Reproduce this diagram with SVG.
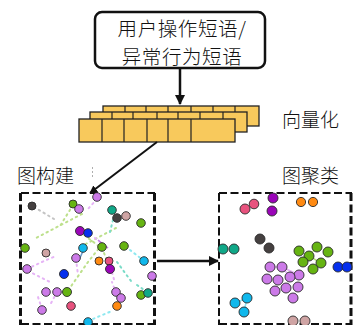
<svg xmlns="http://www.w3.org/2000/svg" width="355" height="325" viewBox="0 0 355 325">
<defs>
<style>
.t{font-family:"Noto Sans CJK SC","Noto Sans CJK JP",sans-serif;fill:#111;font-weight:300;}
.bar{fill:#F8C95C;stroke:#222;stroke-width:1.3;}
.dv{stroke:#222;stroke-width:1.2;}
.n{stroke:#2a2a2a;stroke-width:0.9;}
.vi{fill:#cc7ae8}.gr{fill:#66b412}.pu{fill:#9a05b8}.ro{fill:#e8527e}.or{fill:#ff8a12}
.dg{fill:#454040}.te{fill:#10a888}.cy{fill:#10b8ec}.bl{fill:#0630ee}.pg{fill:#cfa4a4}
.e{fill:none;stroke-width:2;stroke-dasharray:1.5,4;stroke-linecap:round;}
.ev{stroke:#e6b4f6}.eg{stroke:#bde08c}.ec{stroke:#8ee8f0}.et{stroke:#7cdcc8}.ed{stroke:#c4c4c4}
.sl{fill:none;stroke-width:1.6;}
.bx{fill:none;stroke:#111;stroke-dasharray:8,3.5;}
</style>
<marker id="ah" viewBox="0 0 10 10" refX="9" refY="5" markerWidth="4" markerHeight="4" orient="auto" markerUnits="strokeWidth">
<path d="M0,0 L10,5 L0,10 z" fill="#111"/>
</marker>
</defs>
<rect width="355" height="325" fill="#fff"/>

<g id="source">
<rect x="95" y="12" width="170" height="56" rx="7" fill="#fff" stroke="#111" stroke-width="2.5"/>
<text class="t" x="182" y="36" font-size="19.5" text-anchor="middle" letter-spacing="0.6">用户操作短语/</text>
<text class="t" x="182" y="63.5" font-size="19.5" text-anchor="middle" letter-spacing="0.6">异常行为短语</text>
</g>

<g id="vectorize">
<rect class="bar" x="103" y="106" width="156" height="20"/>
<path class="dv" d="M125,106v20M146,106v20M168,106v20M191,106v20M213,106v20M235,106v20"/>
<rect class="bar" x="90" y="112" width="157" height="20"/>
<path class="dv" d="M112,112v20M133,112v20M157,112v20M178,112v20M200,112v20M223,112v20"/>
<rect class="bar" x="79" y="119" width="156" height="23"/>
<path class="dv" d="M102,119v23M124,119v23M147,119v23M168,119v23M191,119v23"/>
<text class="t" x="282" y="127" font-size="19">向量化</text>
</g>

<g id="graph-build">
<text class="t" x="17" y="183" font-size="19">图构建</text>
<line x1="92.5" y1="167" x2="92.5" y2="177" stroke="#999" stroke-width="0.8" stroke-dasharray="2,2"/>
<path class="bx" stroke-width="2" d="M21,193H155M21,324H155"/>
<path class="bx" stroke-width="3" d="M20.5,193V325M154.5,193V325"/>
<g>
<path class="e ed" d="M34,207L54,219"/>
<path class="e eg" d="M82,214L36,238M73,205L60,226M116,228L84,245M80,232L100,247L88,262L67,292M102,248L110,268"/>
<path class="e ev" d="M97,199L88,209M95,238L107,248M27,269L44,261L56,256M28,271L52,283M42,309L38,297M76,259L78,275M116,293L112,282M57,292L50,305M109,262L115,283"/>
<path class="e ec" d="M88,321L112,311M130,250L143,260"/>
<path class="e et" d="M117,262L131,281M137,285L147,292M113,220L110,232"/>
<path class="sl" stroke="#c478e6" d="M98,240L108,248"/>
<path class="sl" stroke="#6a9acc" d="M84,249L78,262"/>
</g>
<circle class="n dg" cx="32" cy="206" r="4"/>
<circle class="n gr" cx="73" cy="204" r="4"/>
<circle class="n vi" cx="97" cy="197" r="4.3"/>
<circle class="n vi" cx="79" cy="209" r="4.3"/>
<circle class="n te" cx="112" cy="210" r="4.3"/>
<circle class="n dg" cx="117" cy="218" r="4.3"/>
<circle class="n pg" cx="126" cy="216" r="4.3"/>
<circle class="n gr" cx="141" cy="223" r="4.3"/>
<circle class="n pu" cx="80" cy="231" r="4.5"/>
<circle class="n bl" cx="88" cy="233" r="4.3"/>
<circle class="n gr" cx="25" cy="248" r="4.3"/>
<circle class="n pg" cx="46" cy="253" r="4"/>
<circle class="n cy" cx="83" cy="248" r="4.3"/>
<circle class="n gr" cx="102" cy="247" r="4.3"/>
<circle class="n gr" cx="124" cy="246" r="4.3"/>
<circle class="n vi" cx="76" cy="258" r="4.3"/>
<circle class="n or" cx="99" cy="261" r="4"/>
<circle class="n ro" cx="109" cy="261" r="4"/>
<circle class="n cy" cx="144" cy="261" r="4.3"/>
<circle class="n vi" cx="27" cy="269" r="4.3"/>
<circle class="n pu" cx="110" cy="269" r="4.5"/>
<circle class="n bl" cx="64" cy="274" r="4.5"/>
<circle class="n vi" cx="152" cy="276" r="4.3"/>
<circle class="n vi" cx="46" cy="292" r="4.3"/>
<circle class="n vi" cx="57" cy="292" r="4.3"/>
<circle class="n gr" cx="67" cy="292" r="4.5"/>
<circle class="n vi" cx="116" cy="292" r="4.3"/>
<circle class="n vi" cx="121" cy="298" r="4.3"/>
<circle class="n gr" cx="141" cy="295" r="4.3"/>
<circle class="n te" cx="148" cy="293" r="4.3"/>
<circle class="n ro" cx="71" cy="306" r="4.3"/>
<circle class="n or" cx="117" cy="306" r="4.3"/>
<circle class="n vi" cx="42" cy="310" r="4.3"/>
<circle class="n cy" cx="88" cy="322" r="4.3"/>
</g>

<g id="graph-cluster">
<text class="t" x="282" y="183" font-size="19">图聚类</text>
<path class="bx" stroke-width="2" d="M219,193H352M219,324H352"/>
<path class="bx" stroke-width="2" d="M219,193V325"/>
<path class="bx" stroke-width="3" d="M351,193V325"/>
<path class="sl" stroke="#e6b0f6" d="M270,267L282,267L299,275M282,267L290,277"/>
<path class="sl" stroke="#b6e07e" d="M309,256L321,263M303,262L317,247"/>
<path class="sl" stroke="#8ee4f4" d="M235,303L247,298L244,312"/>
<circle class="n ro" cx="245" cy="209" r="5"/>
<circle class="n ro" cx="254" cy="204" r="4.8"/>
<circle class="n pu" cx="273" cy="198" r="5"/>
<circle class="n pu" cx="272" cy="211" r="5"/>
<circle class="n or" cx="301" cy="202" r="4.6"/>
<circle class="n or" cx="313" cy="202" r="4.6"/>
<circle class="n dg" cx="260" cy="239" r="5"/>
<circle class="n dg" cx="269" cy="248" r="5"/>
<circle class="n te" cx="223" cy="249" r="5"/>
<circle class="n te" cx="234" cy="249" r="5"/>
<circle class="n gr" cx="299" cy="251" r="5"/>
<circle class="n gr" cx="317" cy="247" r="5"/>
<circle class="n gr" cx="328" cy="252" r="5"/>
<circle class="n gr" cx="309" cy="256" r="5"/>
<circle class="n gr" cx="321" cy="263" r="5"/>
<circle class="n gr" cx="313" cy="269" r="5"/>
<circle class="n gr" cx="303" cy="262" r="5"/>
<circle class="n bl" cx="338" cy="267" r="5"/>
<circle class="n bl" cx="347" cy="267" r="5"/>
<circle class="n vi" cx="270" cy="267" r="5"/>
<circle class="n vi" cx="282" cy="267" r="5"/>
<circle class="n vi" cx="299" cy="275" r="5"/>
<circle class="n vi" cx="290" cy="277" r="5"/>
<circle class="n vi" cx="267" cy="279" r="5"/>
<circle class="n vi" cx="278" cy="280" r="5"/>
<circle class="n vi" cx="298" cy="287" r="5"/>
<circle class="n vi" cx="286" cy="288" r="5"/>
<circle class="n vi" cx="275" cy="291" r="5"/>
<circle class="n vi" cx="293" cy="298" r="5"/>
<circle class="n cy" cx="235" cy="303" r="5"/>
<circle class="n cy" cx="247" cy="298" r="5"/>
<circle class="n cy" cx="244" cy="312" r="5"/>
<circle class="n pg" cx="293" cy="321" r="5"/>
<circle class="n pg" cx="305" cy="321" r="5"/>
</g>

<g id="connectors" stroke="#111" fill="none">
<line x1="180" y1="68" x2="180" y2="104" stroke-width="2.5" marker-end="url(#ah)"/>
<line x1="157" y1="142" x2="90" y2="193" stroke-width="2" marker-end="url(#ah)"/>
<line x1="157" y1="261" x2="218" y2="261" stroke-width="2.5" marker-end="url(#ah)"/>
</g>
</svg>
